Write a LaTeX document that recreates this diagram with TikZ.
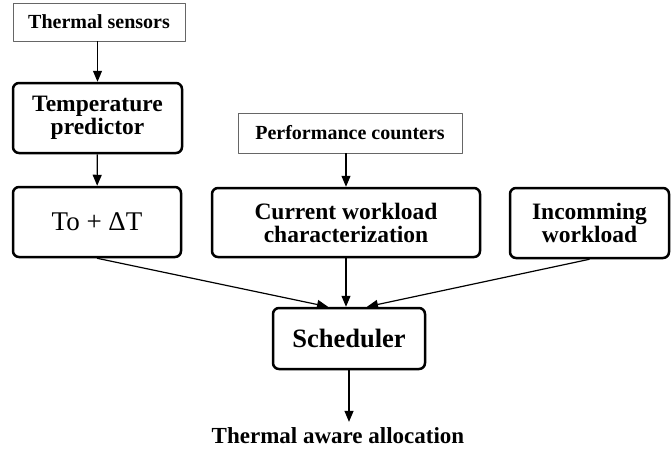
\documentclass[tikz,border=0pt]{standalone}
\usepackage{fontspec}
\setmainfont{Liberation Serif}
\usetikzlibrary{arrows.meta,calc}
\begin{document}
\begin{tikzpicture}[x=1pt,y=-1pt,>={Triangle[length=11pt,width=9pt]}, line join=round,
	thinbox/.style={draw=black!60,line width=0.8pt,inner sep=0pt,font=\fontsize{20}{22}\selectfont\bfseries},
	thickbox/.style={draw,line width=2.5pt,rounded corners=6pt,align=center,inner sep=0pt,font=\fontsize{23.5}{23}\selectfont\bfseries},
	link/.style={line width=1.2pt}]
	\useasboundingbox (0,0) rectangle (671,448);
	% inputs
	\node[thinbox,minimum width=172pt,minimum height=38pt] (sensors) at (99,22) {Thermal sensors};
	\node[thinbox,minimum width=224pt,minimum height=40pt] (counters) at (350,133) {Performance counters};
	% processing boxes
	\node[thickbox,minimum width=169pt,minimum height=70pt] (predictor) at (97.5,118) {Temperature\\ predictor};
	\node[thickbox,minimum width=168pt,minimum height=70pt,font=\fontsize{27}{27}\selectfont] (delta) at (97,222) {To + ΔT};
	\node[thickbox,minimum width=268pt,minimum height=69pt] (current) at (346,222.5) {Current workload\\ characterization};
	\node[thickbox,minimum width=159pt,minimum height=70pt] (incoming) at (589.5,223) {Incomming\\ workload};
	\node[thickbox,minimum width=152pt,minimum height=61pt,font=\fontsize{26.5}{26}\selectfont\bfseries] (sched) at (349,338.5) {Scheduler};
	\node[inner sep=5pt,anchor=base,font=\fontsize{23}{23}\selectfont\bfseries] (alloc) at (338,443) {Thermal aware allocation};
	% connectors
	\draw[link,->] (sensors.south -| predictor) -- (predictor.north);
	\draw[link,->] (predictor) -- (delta);
	\draw[link,->] (counters.south -| current) -- (current.north);
	\draw[link,->] (delta.south) -- ($(sched.north)+(-21,0)$);
	\draw[link,->] (current.south) -- (current.south |- sched.north);
	\draw[link,->] (incoming.south) -- ($(sched.north)+(18,0)$);
	\draw[link,->] (sched.south) -- (sched.south |- alloc.north);
\end{tikzpicture}
\end{document}
